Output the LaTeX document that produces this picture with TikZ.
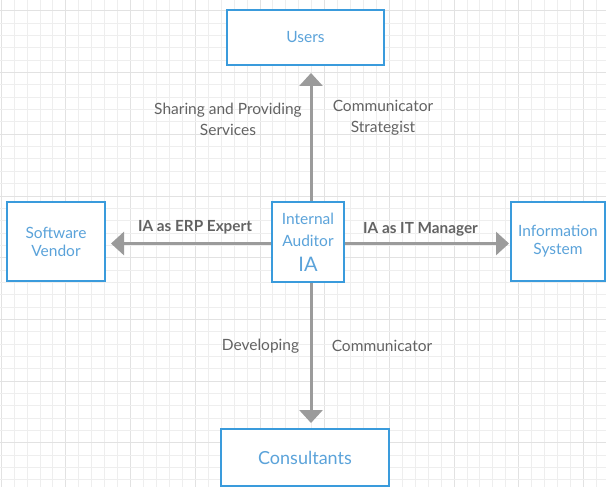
\documentclass[tikz,border=0pt]{standalone}
\usepackage{fontspec}
\setmainfont{Lato}
\usetikzlibrary{arrows.meta}
\definecolor{boxblue}{HTML}{3A9BDC}
\definecolor{txtblue}{HTML}{5BA3DA}
\definecolor{lblgray}{HTML}{636363}
\definecolor{arrgray}{HTML}{9B9B9B}
\definecolor{gridminor}{HTML}{EEEEEE}
\definecolor{gridmajor}{HTML}{E2E2E2}
\tikzset{
  entity/.style={draw=boxblue, line width=2pt, fill=white, text=txtblue, align=center, inner sep=0pt, font=\fontsize{15.5}{18}\selectfont},
  conn/.style={draw=arrgray, line width=3pt, -{Triangle[width=23pt,length=13pt]}},
  lbl/.style={text=lblgray, align=center, inner sep=0pt, font=\fontsize{15.5}{21}\selectfont},
  blbl/.style={lbl, font=\fontsize{15.3}{21}\selectfont\bfseries},
}
\begin{document}
\begin{tikzpicture}[x=1pt,y=-1pt]
\useasboundingbox (0,0) rectangle (606,487);
\fill[white] (0,0) rectangle (606,487);
% grid
\foreach \i in {0,...,47} {
  \pgfmathsetmacro{\gx}{1.1+12.94*\i}
  \pgfmathtruncatemacro{\m}{mod(\i,5)}
  \ifnum\m=0
    \draw[gridmajor, line width=0.8pt] (\gx,0) -- (\gx,487);
  \else
    \draw[gridminor, line width=0.8pt] (\gx,0) -- (\gx,487);
  \fi
}
\foreach \i in {0,...,39} {
  \pgfmathsetmacro{\gy}{10.8+12.34*\i}
  \pgfmathtruncatemacro{\m}{mod(\i,5)}
  \ifnum\m=0
    \draw[gridmajor, line width=0.8pt] (0,\gy) -- (606,\gy);
  \else
    \draw[gridminor, line width=0.8pt] (0,\gy) -- (606,\gy);
  \fi
}
% nodes
\node[entity, minimum width=157pt, minimum height=55pt] (users) at (305.5,37.5) {Users};
\node[entity, minimum width=72pt, minimum height=80pt] (ia) at (308,241.5) {};
\node[text=txtblue, font=\fontsize{15.5}{18}\selectfont, inner sep=0pt] (ia1) at (308,219) {Internal};
\node[text=txtblue, font=\fontsize{15.5}{18}\selectfont, inner sep=0pt] (ia2) at (308,241) {Auditor};
\node[text=txtblue, font=\fontsize{20}{22}\selectfont, inner sep=0pt] (ia3) at (308,264.5) {IA};
\node[entity, minimum width=98pt, minimum height=79pt] (sv) at (56,241.5) {Software\\Vendor};
\node[entity, minimum width=94pt, minimum height=79pt] (is) at (558,241.5) {Information\\System};
\node[entity, minimum width=168pt, minimum height=57pt, font=\fontsize{18}{20}\selectfont] (cons) at (305,457.5) {Consultants};
% connector anchors
\coordinate (vx) at (311,0);
\coordinate (hy) at (0,243.5);
\draw[conn, shorten >=7pt] (ia.north -| vx) -- (users.south -| vx);
\draw[conn, shorten >=5pt] (ia.south -| vx) -- (cons.north -| vx);
\draw[conn, shorten >=5pt] (ia.west |- hy) -- (sv.east |- hy);
\draw[conn, shorten >=1pt] (ia.east |- hy) -- (is.west |- hy);
% labels
\node[lbl] (l1) at (228,119.5) {Sharing and Providing\\Services};
\node[lbl] (l2) at (383,118) {Communicator\\Strategist};
\node[blbl] (l3) at (195,227) {IA as ERP Expert};
\node[blbl] (l4) at (420.5,229) {IA as IT Manager};
\node[lbl] (l5) at (260.5,346) {Developing};
\node[lbl] (l6) at (382,346) {Communicator};
\end{tikzpicture}
\end{document}
